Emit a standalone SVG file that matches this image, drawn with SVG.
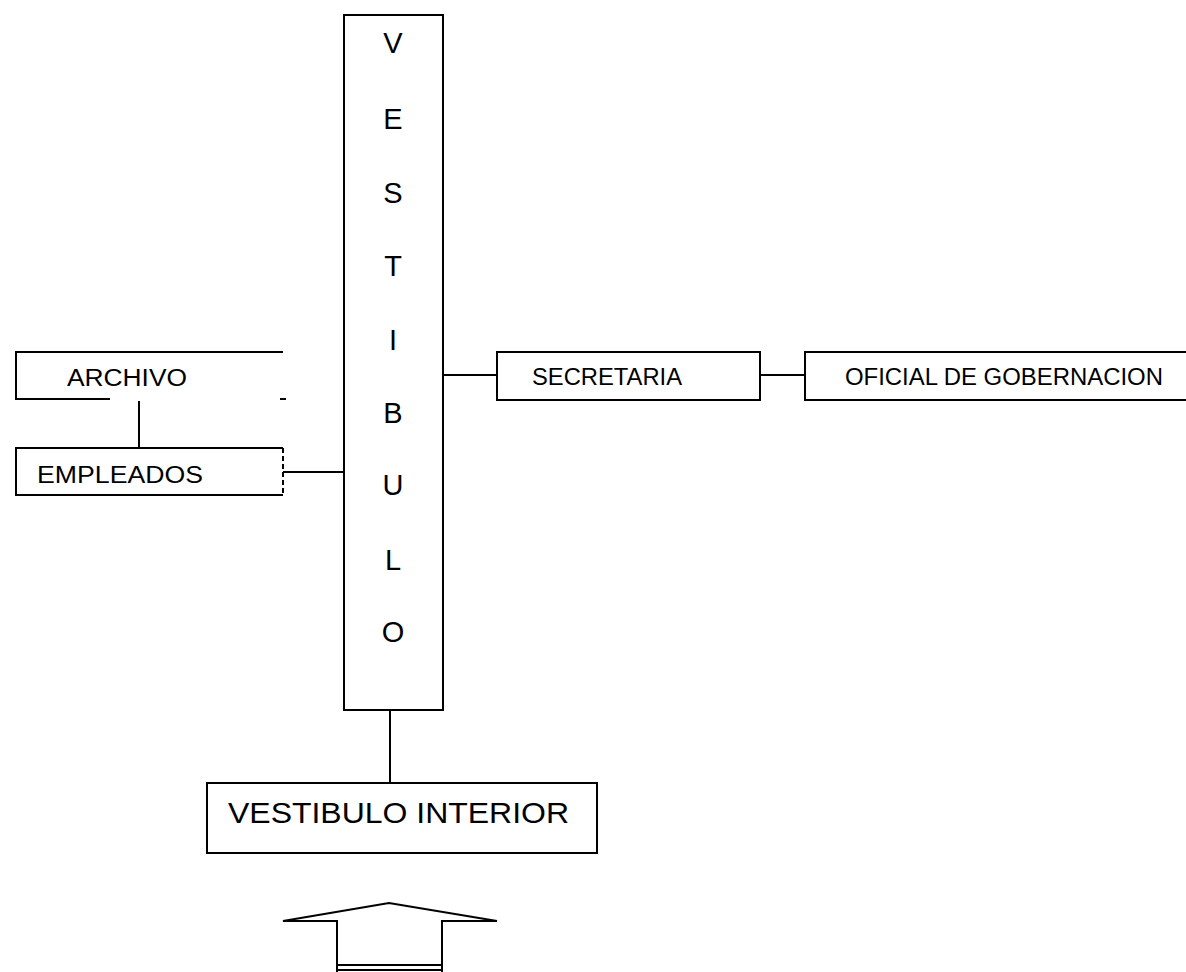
<svg xmlns="http://www.w3.org/2000/svg" width="1186" height="972" viewBox="0 0 1186 972">
<style>
.bx{fill:none;stroke:#000;stroke-width:2}
.ln{fill:none;stroke:#000;stroke-width:2}
.t{font-family:"Liberation Sans",Arial,sans-serif;fill:#000}
.lbl{font-size:23px}
.big{font-size:29px}
.v{font-size:29px;text-anchor:middle}
</style>
<rect width="1186" height="972" fill="#fff"/>
<g id="vestibulo">
<rect class="bx" x="344" y="15" width="99" height="695"/>
<text class="t v" x="393" y="53">V</text>
<text class="t v" x="393" y="129">E</text>
<text class="t v" x="393" y="203">S</text>
<text class="t v" x="393" y="276">T</text>
<text class="t v" x="393" y="350">I</text>
<text class="t v" x="393" y="423">B</text>
<text class="t v" x="393" y="495">U</text>
<text class="t v" x="393" y="570">L</text>
<text class="t v" x="393" y="642">O</text>
</g>
<g id="archivo">
<path class="ln" d="M283,352 H16 V399 H110 M280,399 H286"/>
<text class="t lbl" x="67" y="386" textLength="120" lengthAdjust="spacingAndGlyphs">ARCHIVO</text>
</g>
<g id="empleados">
<path class="ln" d="M283,448 H16 V495 H283"/>
<path class="ln" d="M283,448 V495" stroke-dasharray="5,3"/>
<text class="t lbl" x="37" y="483" textLength="166" lengthAdjust="spacingAndGlyphs">EMPLEADOS</text>
</g>
<g id="secretaria">
<rect class="bx" x="497" y="352" width="263" height="48"/>
<text class="t lbl" x="532" y="385" textLength="150" lengthAdjust="spacingAndGlyphs">SECRETARIA</text>
</g>
<g id="oficial">
<path class="ln" d="M1187,352 H805 V400 H1187"/>
<text class="t lbl" x="845" y="385" textLength="318" lengthAdjust="spacingAndGlyphs">OFICIAL DE GOBERNACION</text>
</g>
<g id="vestibulo-interior">
<rect class="bx" x="207" y="783" width="390" height="70"/>
<text class="t big" x="228" y="823" textLength="341" lengthAdjust="spacingAndGlyphs">VESTIBULO INTERIOR</text>
</g>
<g id="entrada">
<path class="ln" d="M337,973 V921 H283 L389,903 L497,921 H442 V973"/>
<path class="ln" d="M337,965 H442 M337,970 H442"/>
</g>
<g id="connectors">
<path class="ln" d="M139,401 V448"/>
<path class="ln" d="M283,472 H344"/>
<path class="ln" d="M443,375 H497"/>
<path class="ln" d="M760,375 H805"/>
<path class="ln" d="M390,710 V783"/>
</g>
</svg>
